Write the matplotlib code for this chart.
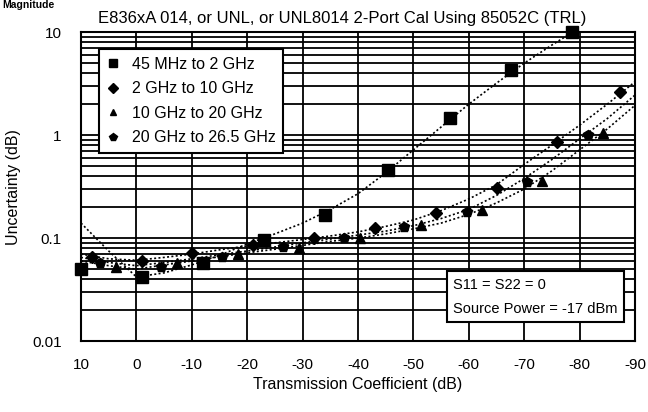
import matplotlib
matplotlib.use("Agg")
import matplotlib.pyplot as plt
from matplotlib.lines import Line2D
import numpy as np

plt.rcParams['font.family'] = ['Liberation Sans', 'DejaVu Sans']

# ---- data ----
series_labels = ["45 MHz to 2 GHz", "2 GHz to 10 GHz", "10 GHz to 20 GHz", "20 GHz to 26.5 GHz"]

# fitted curves, sampled every 5 dB
curve_x = [10, 5, 0, -5, -10, -15, -20, -25, -30, -35, -40, -45, -50, -55, -60, -65, -70, -75, -80, -85, -90]
curve_s1 = [0.14, 0.075, 0.042, 0.046, 0.055, 0.068, 0.088, 0.11, 0.14, 0.19, 0.27, 0.43, 0.72, 1.2, 2.0, 3.2, 5.0, 7.5, 11.0, None, None]
curve_s2 = [0.07, 0.063, 0.061, 0.065, 0.07, 0.077, 0.084, 0.09, 0.097, 0.105, 0.115, 0.13, 0.15, 0.185, 0.24, 0.33, 0.52, 0.8, 1.25, 2.0, 3.3]
curve_s3 = [0.06, 0.054, 0.05, 0.055, 0.06, 0.066, 0.072, 0.078, 0.085, 0.093, 0.1, 0.11, 0.123, 0.14, 0.17, 0.22, 0.3, 0.45, 0.72, 1.15, 1.95]
curve_s4 = [0.065, 0.058, 0.054, 0.058, 0.063, 0.069, 0.075, 0.082, 0.09, 0.098, 0.107, 0.117, 0.132, 0.155, 0.19, 0.26, 0.38, 0.58, 0.92, 1.45, 2.45]

# measured markers
mk_x1 = [10, -1, -12, -23, -34, -45.4, -56.6, -67.6, -78.6]
mk_y1 = [0.05, 0.042, 0.058, 0.095, 0.167, 0.457, 1.46, 4.28, 10.0]
mk_x2 = [8, -1, -10, -21, -32, -43, -54, -65, -76, -87.3]
mk_y2 = [0.065, 0.06, 0.072, 0.085, 0.1, 0.125, 0.175, 0.31, 0.86, 2.6]
mk_x3 = [3.6, -7.4, -18.4, -29.4, -40.4, -51.4, -62.4, -73.2, -84.2]
mk_y3 = [0.052, 0.058, 0.07, 0.08, 0.1, 0.134, 0.187, 0.36, 1.05]
mk_x4 = [6.5, -4.5, -15.5, -26.5, -37.5, -48.3, -59.7, -70.5, -81.5]
mk_y4 = [0.058, 0.052, 0.066, 0.082, 0.1, 0.128, 0.18, 0.35, 1.0]

x_ticks = [10, 0, -10, -20, -30, -40, -50, -60, -70, -80, -90]
y_ticks = [0.01, 0.1, 1, 10]
y_tick_labels = ["0.01", "0.1", "1", "10"]

title = "E836xA 014, or UNL, or UNL8014 2-Port Cal Using 85052C (TRL)"
note_lines = ["S11 = S22 = 0", "Source Power = -17 dBm"]

# ---- figure ----
fig = plt.figure(figsize=(6.48, 4.12), dpi=100)
ax = fig.add_axes([0.125, 0.172, 0.855, 0.75])

ax.set_yscale('log')
ax.set_xlim(10, -90)
ax.set_ylim(0.01, 10)

# grid: vertical at each tick, horizontal at all log minor positions
for xv in x_ticks:
    ax.axvline(xv, color='black', lw=1.3, zorder=1)
for dec in [0.01, 0.1, 1]:
    for m in range(1, 10):
        ax.axhline(dec * m, color='black', lw=1.3, zorder=1)

cx = np.array(curve_x, dtype=float)
dot = (0, (1.2, 1.4))
for cy in [curve_s1, curve_s2, curve_s3, curve_s4]:
    arr = np.array([np.nan if v is None else v for v in cy], dtype=float)
    ax.plot(cx, arr, color='black', lw=1.2, linestyle=dot, zorder=3, clip_on=True)

ax.plot(mk_x1, mk_y1, linestyle='none', marker='s', ms=8, color='black', zorder=4, clip_on=False)
ax.plot(mk_x2, mk_y2, linestyle='none', marker='D', ms=6, color='black', zorder=4)
ax.plot(mk_x3, mk_y3, linestyle='none', marker='^', ms=7, color='black', zorder=4)
ax.plot(mk_x4, mk_y4, linestyle='none', marker='p', ms=7, color='black', zorder=4)

ax.set_xticks(x_ticks)
ax.set_xticklabels([str(v) for v in x_ticks])
ax.set_yticks(y_ticks)
ax.set_yticklabels(y_tick_labels)
ax.yaxis.set_minor_locator(matplotlib.ticker.NullLocator())
ax.tick_params(axis='both', length=0, labelsize=11, pad=12)
ax.tick_params(axis='y', pad=14)
for s in ax.spines.values():
    s.set_linewidth(1.5)

ax.set_xlabel("Transmission Coefficient (dB)", fontsize=11.5, labelpad=4)
ax.set_ylabel("Uncertainty (dB)", fontsize=11.5, labelpad=8)

fig.text(0.152, 0.955, title, fontsize=12, ha='left', va='center')
fig.text(0.003, 0.999, "Magnitude", fontsize=7.5, fontweight='bold', ha='left', va='top')

handles = [
    Line2D([], [], linestyle='none', marker='s', ms=6, color='black'),
    Line2D([], [], linestyle='none', marker='D', ms=5, color='black'),
    Line2D([], [], linestyle='none', marker='^', ms=5, color='black'),
    Line2D([], [], linestyle='none', marker='p', ms=6, color='black'),
]
leg = ax.legend(handles, series_labels, loc='upper left', bbox_to_anchor=(0.018, 0.97),
                fontsize=11.5, frameon=True, fancybox=False, framealpha=1,
                edgecolor='black', handlelength=0.8, handletextpad=0.8,
                labelspacing=0.6, borderpad=0.45)
leg.get_frame().set_linewidth(1.5)
leg.set_zorder(10)

ax.text(0.672, 0.205, note_lines[0] + "\n" + note_lines[1], transform=ax.transAxes,
        fontsize=10.5, ha='left', va='top', linespacing=1.9, zorder=10,
        bbox=dict(boxstyle='square,pad=0.45', facecolor='white', edgecolor='black', lw=1.5))

fig.savefig("out.png", dpi=100)
